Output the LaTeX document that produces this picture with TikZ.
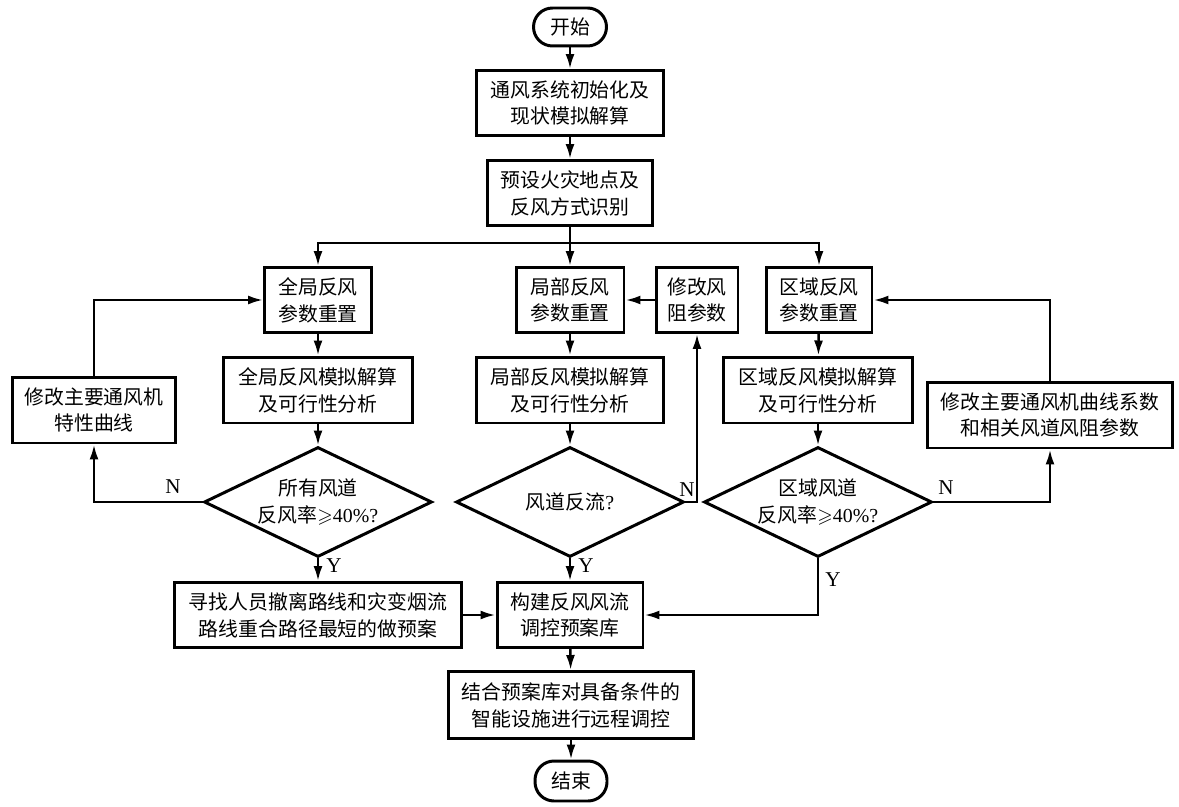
\documentclass[tikz,border=0pt]{standalone}
\usepackage{amssymb}
\usepackage{fontspec}
\setmainfont{Liberation Serif}
\newfontfamily\cjk{Noto Sans CJK SC}
\usetikzlibrary{shapes.geometric,arrows.meta}

\tikzset{
  box/.style={draw, line width=1.7pt, align=center, inner sep=0pt,
    font=\cjk\fontsize{11.3pt}{15.3pt}\selectfont},
  term/.style={box, rounded corners=0.38cm},
  decision/.style={box, diamond, shape aspect=2.07},
  flow/.style={->, line width=1.4pt},
  yn/.style={font=\fontsize{12pt}{14pt}\selectfont}
}
\newcommand{\ratio}{{\rmfamily$\geqslant$40\%?}}

\begin{document}
\begin{tikzpicture}[x=0.02cm, y=-0.02cm, >={Latex[length=3mm,width=1.8mm]}]

        \useasboundingbox (0,0) rectangle (1179,807);

        % Main column
        \node[term, minimum width=1.46cm, minimum height=0.76cm] (start) at (570,27) {开始};
        \node[box, minimum width=3.76cm, minimum height=1.3cm] (init) at (570,103) {通风系统初始化及\\现状模拟解算};
        \node[box, minimum width=3.3cm, minimum height=1.3cm] (pre) at (570,193) {预设火灾地点及\\反风方式识别};
        \coordinate (split) at (570,243);

        % Global reversal (left)
        \node[box, minimum width=2.14cm, minimum height=1.3cm] (qj) at (318,300) {全局反风\\参数重置};
        \node[box, minimum width=3.78cm, minimum height=1.32cm] (qjsim) at (318,390) {全局反风模拟解算\\及可行性分析};
        \node[decision, minimum width=4.56cm, minimum height=2.2cm] (qjd) at (318,502) {所有风道\\反风率\ratio};
        \node[box, minimum width=3.28cm, minimum height=1.32cm] (qjmod) at (94,410) {修改主要通风机\\特性曲线};

        % Local reversal (middle)
        \node[box, minimum width=2.16cm, minimum height=1.3cm] (jb) at (570,300) {局部反风\\参数重置};
        \node[box, minimum width=1.64cm, minimum height=1.3cm] (jbmod) at (697,300) {修改风\\阻参数};
        \node[box, minimum width=3.76cm, minimum height=1.32cm] (jbsim) at (570,390) {局部反风模拟解算\\及可行性分析};
        \node[decision, minimum width=4.56cm, minimum height=2.2cm] (jbd) at (570,502) {风道反流{\rmfamily?}};

        % Zone reversal (right)
        \node[box, minimum width=2.12cm, minimum height=1.3cm] (qy) at (819,300) {区域反风\\参数重置};
        \node[box, minimum width=3.78cm, minimum height=1.32cm] (qysim) at (818,390) {区域反风模拟解算\\及可行性分析};
        \node[decision, minimum width=4.56cm, minimum height=2.2cm] (qyd) at (818,502) {区域风道\\反风率\ratio};
        \node[box, minimum width=4.9cm, minimum height=1.32cm] (qymod) at (1050,415) {修改主要通风机曲线系数\\和相关风道风阻参数};

        % Plan library and end
        \node[box, minimum width=5.74cm, minimum height=1.3cm] (xz) at (318,615) {寻找人员撤离路线和灾变烟流\\路线重合路径最短的做预案};
        \node[box, minimum width=2.92cm, minimum height=1.3cm] (gj) at (570,615) {构建反风风流\\调控预案库};
        \node[box, minimum width=4.9cm, minimum height=1.34cm] (jh) at (571,705) {结合预案库对具备条件的\\智能设施进行远程调控};
        \node[term, minimum width=1.44cm, minimum height=0.8cm] (end) at (571,781) {结束};

        % Top part
        \draw[flow] (start) -- (init);
        \draw[flow] (init) -- (pre);
        \draw[line width=1.4pt] (pre.south) -- (split);
        \draw[flow] (split) -| (qj.north);
        \draw[flow] (split) -- (jb.north);
        \draw[flow] (split) -| (qy.north);

        % Left loop
        \draw[flow] (qj) -- (qjsim);
        \draw[flow] (qjsim) -- (qjd);
        \draw[flow] (qjd.west) -| (qjmod.south);
        \draw[flow] (qjmod.north) |- (qj.west);
        \draw[flow] (qjd.south) -- (xz.north);

        % Middle loop
        \draw[flow] (jb) -- (jbsim);
        \draw[flow] (jbsim) -- (jbd);
        \draw[flow] (jbd.east) -| (jbmod.south);
        \draw[flow] (jbmod) -- (jb);
        \draw[flow] (jbd.south) -- (gj.north);

        % Right loop
        \draw[flow] (qy) -- (qysim);
        \draw[flow] (qysim) -- (qyd);
        \draw[flow] (qyd.east) -| (qymod.south);
        \draw[flow] (qymod.north) |- (qy.east);
        \draw[flow] (qyd.south) |- (gj.east);

        % Bottom
        \draw[flow] (xz) -- (gj);
        \draw[flow] (gj) -- (jh);
        \draw[flow] (jh) -- (end);

        % Y / N marks
        \node[yn] (n1) at (173,487) {N};
        \node[yn] (n2) at (687,490) {N};
        \node[yn] (n3) at (946,488) {N};
        \node[yn] (y1) at (334,566) {Y};
        \node[yn] (y2) at (586,566) {Y};
        \node[yn] (y3) at (833,580) {Y};
    \end{tikzpicture}
\end{document}
